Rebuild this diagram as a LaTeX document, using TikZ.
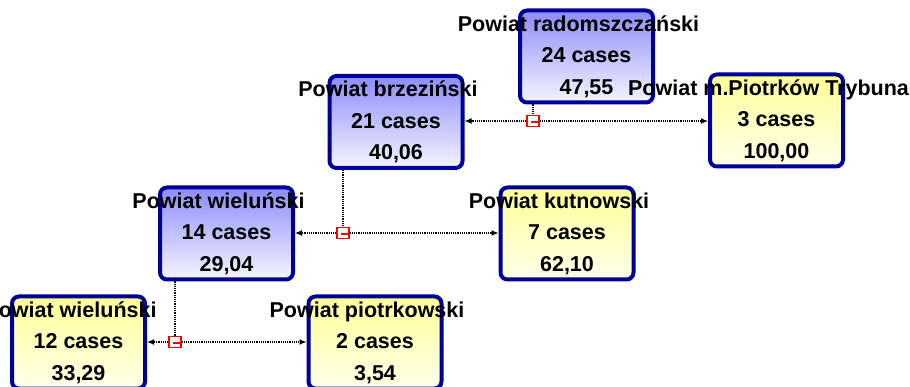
\documentclass[tikz,border=0pt]{standalone}
\usepackage{fontspec}
\setmainfont{Liberation Sans}
\usetikzlibrary{arrows.meta}
\definecolor{boxblue}{RGB}{0,0,150}
\definecolor{topblue}{RGB}{140,140,250}
\definecolor{lowblue}{RGB}{245,245,255}
\definecolor{topyellow}{RGB}{255,255,150}
\definecolor{lowyellow}{RGB}{255,255,235}
\newcommand{\boxtitle}[1]{#1\hspace*{16pt}}
\begin{document}
\begin{tikzpicture}[x=1pt,y=-1pt]
	\useasboundingbox (0,0) rectangle (910,387);
	\clip (0,0) rectangle (910,387);
	\begin{scope}[every node/.style={rectangle,rounded corners=7pt,draw=boxblue,line width=4pt,
			minimum width=133pt,minimum height=92pt,inner sep=0pt},
		inner/.style={top color=topblue,bottom color=lowblue},
		leaf/.style={top color=topyellow,bottom color=lowyellow}]
		\node[inner] (R) at (586.5,56.5) {};
		\node[inner] (B) at (396,122) {};
		\node[leaf] (T) at (776.5,120.5) {};
		\node[inner] (W) at (226.5,233.5) {};
		\node[leaf] (K) at (567,233.5) {};
		\node[leaf] (L) at (78.5,342.5) {};
		\node[leaf] (P) at (375,342.5) {};
	\end{scope}
	
	\begin{scope}[every node/.style={inner sep=0pt,align=center,
			font=\bfseries\fontsize{21.5}{31.5}\selectfont}]
		\node (Rtext) at (R) {\boxtitle{Powiat radomszczański}\\24 cases\\47,55};
		\node (Btext) at (B) {\boxtitle{Powiat brzeziński}\\21 cases\\40,06};
		\node (Ttext) at (T) {\boxtitle{Powiat m.Piotrków Trybuna}\\3 cases\\100,00};
		\node (Wtext) at (W) {\boxtitle{Powiat wieluński}\\14 cases\\29,04};
		\node (Ktext) at (K) {\boxtitle{Powiat kutnowski}\\7 cases\\62,10};
		\node (Ltext) at (L) {\boxtitle{Powiat wieluński}\\12 cases\\33,29};
		\node (Ptext) at (P) {\boxtitle{Powiat piotrkowski}\\2 cases\\3,54};
	\end{scope}
	
	\coordinate (j1) at (533,121);
	\coordinate (j2) at (343,233);
	\coordinate (j3) at (175,342);
	
	\begin{scope}[every path/.style={densely dotted,line width=1.2pt},
		link/.style={-{Latex[length=7pt,width=6pt]}}]
		\draw (R.south -| j1) -- (j1);
		\draw[link] (j1) -- (j1 -| B.east);
		\draw[link] (j1) -- (j1 -| T.west);
		\draw (B.south -| j2) -- (j2);
		\draw[link] (j2) -- (j2 -| W.east);
		\draw[link] (j2) -- (j2 -| K.west);
		\draw (W.south -| j3) -- (j3);
		\draw[link] (j3) -- (j3 -| L.east);
		\draw[link] (j3) -- (j3 -| P.west);
	\end{scope}
	
	\foreach \j in {j1,j2,j3} {
		\node[draw=red,fill=white,line width=1.2pt,minimum width=12pt,minimum height=11pt,inner sep=0pt] (sq\j) at (\j) {};
		\draw[red,line width=1.2pt] ([xshift=-2pt,yshift=-1pt]\j) -- ([yshift=-1pt]sq\j.east);
	}
\end{tikzpicture}
\end{document}
